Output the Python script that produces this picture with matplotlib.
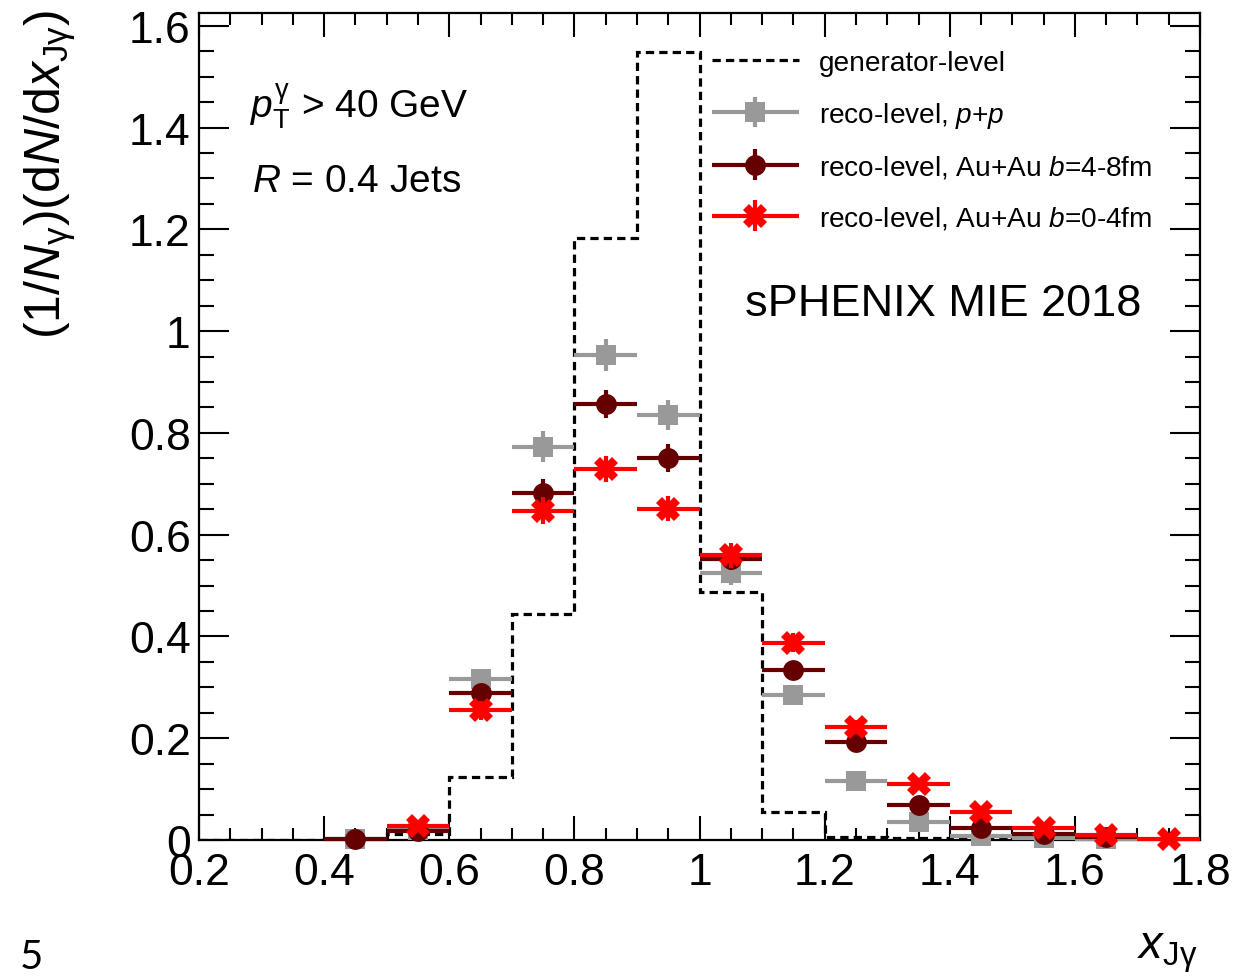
import matplotlib
matplotlib.use("Agg")
import numpy as np
import matplotlib.pyplot as plt
from matplotlib.container import ErrorbarContainer
from matplotlib.legend_handler import HandlerErrorbar
from matplotlib.lines import Line2D

plt.rcParams['font.family'] = ['Liberation Sans', 'DejaVu Sans']
plt.rcParams['mathtext.fontset'] = 'custom'
plt.rcParams['mathtext.rm'] = 'Liberation Sans'
plt.rcParams['mathtext.it'] = 'Liberation Sans:italic'
plt.rcParams['mathtext.bf'] = 'Liberation Sans:bold'

# x_Jgamma binning (0.1 wide bins)
bin_edges = [0.2, 0.3, 0.4, 0.5, 0.6, 0.7, 0.8, 0.9, 1.0,
             1.1, 1.2, 1.3, 1.4, 1.5, 1.6, 1.7, 1.8]
gen_level = [0.0, 0.0, 0.002, 0.012, 0.124, 0.445, 1.182, 1.548,
             0.488, 0.055, 0.006, 0.004, 0.001, 0.0, 0.0, 0.0]

# reco-level, p+p
pp_x = [0.45, 0.55, 0.65, 0.75, 0.85, 0.95, 1.05, 1.15, 1.25, 1.35, 1.45, 1.55, 1.65]
pp_y = [0.002, 0.020, 0.316, 0.773, 0.953, 0.835, 0.525, 0.284, 0.116, 0.036, 0.007, 0.003, 0.002]
pp_err = [0.001, 0.004, 0.019, 0.030, 0.031, 0.029, 0.024, 0.017, 0.011, 0.006, 0.003, 0.002, 0.001]

# reco-level, Au+Au b=4-8fm
mid_x = [0.45, 0.55, 0.65, 0.75, 0.85, 0.95, 1.05, 1.15, 1.25, 1.35, 1.45, 1.55, 1.65]
mid_y = [0.002, 0.018, 0.288, 0.682, 0.857, 0.751, 0.553, 0.333, 0.192, 0.069, 0.024, 0.012, 0.006]
mid_err = [0.001, 0.004, 0.019, 0.028, 0.028, 0.027, 0.023, 0.018, 0.013, 0.008, 0.005, 0.003, 0.002]

# reco-level, Au+Au b=0-4fm
cen_x = [0.55, 0.65, 0.75, 0.85, 0.95, 1.05, 1.15, 1.25, 1.35, 1.45, 1.55, 1.65, 1.75]
cen_y = [0.027, 0.255, 0.647, 0.729, 0.651, 0.559, 0.388, 0.222, 0.110, 0.055, 0.024, 0.010, 0.002]
cen_err = [0.005, 0.019, 0.027, 0.026, 0.025, 0.024, 0.019, 0.014, 0.010, 0.007, 0.005, 0.003, 0.001]

bin_half = 0.05

fig = plt.figure(figsize=(12.57, 9.79), dpi=100)
ax = fig.add_axes([0.1583, 0.141, 0.7964, 0.8447])

gen_line = ax.stairs(gen_level, bin_edges, color='black', linewidth=2.3,
                     linestyle=(0, (2.6, 1.6)), baseline=None, zorder=2)

style = dict(linestyle='none', capsize=0, elinewidth=3.0, markeredgewidth=0)
h_pp = ax.errorbar(pp_x, pp_y, xerr=bin_half, yerr=pp_err, marker='s', ms=15,
                   color='#999999', zorder=3, clip_on=False, **style)
h_mid = ax.errorbar(mid_x, mid_y, xerr=bin_half, yerr=mid_err, marker='o', ms=15,
                    color='#660000', zorder=4, clip_on=False, **style)
h_cen = ax.errorbar(cen_x, cen_y, xerr=bin_half, yerr=cen_err, marker='X', ms=17,
                    color='#ff0000', zorder=5, clip_on=False, **style)

ax.set_xlim(0.2, 1.8)
ax.set_ylim(0, 1.625)
ax.set_xticks([0.2, 0.4, 0.6, 0.8, 1.0, 1.2, 1.4, 1.6, 1.8])
ax.set_xticklabels(['0.2', '0.4', '0.6', '0.8', '1', '1.2', '1.4', '1.6', '1.8'])
ax.set_yticks([0, 0.2, 0.4, 0.6, 0.8, 1.0, 1.2, 1.4, 1.6])
ax.set_yticklabels(['0', '0.2', '0.4', '0.6', '0.8', '1', '1.2', '1.4', '1.6'])
ax.set_xticks(np.arange(0.2, 1.81, 0.05), minor=True)
ax.set_yticks(np.arange(0, 1.61, 0.05), minor=True)

for s in ax.spines.values():
    s.set_linewidth(1.6)
ax.tick_params(axis='both', which='both', direction='in', top=True, right=True,
               width=1.5, labelsize=32)
ax.tick_params(axis='x', which='major', length=17, pad=9)
ax.tick_params(axis='x', which='minor', length=8.5)
ax.tick_params(axis='y', which='major', length=21.5, pad=6)
ax.tick_params(axis='y', which='minor', length=10.8)

gen_handle = Line2D([], [], color='black', linewidth=2.3, linestyle=(0, (2.6, 1.6)))
leg = fig.legend([gen_handle, h_pp, h_mid, h_cen],
                 ['generator-level', r'reco-level, $p$+$p$',
                  r'reco-level, Au+Au $b$=4-8fm', r'reco-level, Au+Au $b$=0-4fm'],
                 loc='upper left', bbox_to_anchor=(712 / 1257, 1 - 51 / 979),
                 frameon=False, fontsize=20.2, handlelength=3.1, handletextpad=0.7,
                 labelspacing=0.85, borderpad=0, borderaxespad=0, numpoints=1,
                 handler_map={ErrorbarContainer: HandlerErrorbar(xerr_size=1.55, yerr_size=0.55)})

fig.text(250 / 1257, 1 - 118 / 979, r'$p_{\mathrm{T}}^{\mathrm{\gamma}}$ > 40 GeV',
         fontsize=28, va='baseline', ha='left')
fig.text(252 / 1257, 1 - 192 / 979, r'$R$ = 0.4 Jets',
         fontsize=28, va='baseline', ha='left')
fig.text(745 / 1257, 1 - 316 / 979, 'sPHENIX MIE 2018',
         fontsize=32.5, va='baseline', ha='left')

# axis titles, ROOT style (aligned to the end of each axis)
fig.text(50 / 1257, 1 - 10 / 979,
         r'(1/$N_{\mathrm{\gamma}}$)(d$N$/d$x_{\mathrm{J\gamma}}$)',
         fontsize=36, rotation=90, rotation_mode='anchor', ha='right', va='center')
fig.text(1197 / 1257, 1 - 959 / 979, r'$x_{\mathrm{J\gamma}}$',
         fontsize=34, ha='right', va='baseline')

fig.text(20 / 1257, 1 - 969 / 979, '5', fontsize=29, family='Lato',
         fontweight='normal', color='black', va='baseline', ha='left')

fig.savefig('out.png', dpi=100)
